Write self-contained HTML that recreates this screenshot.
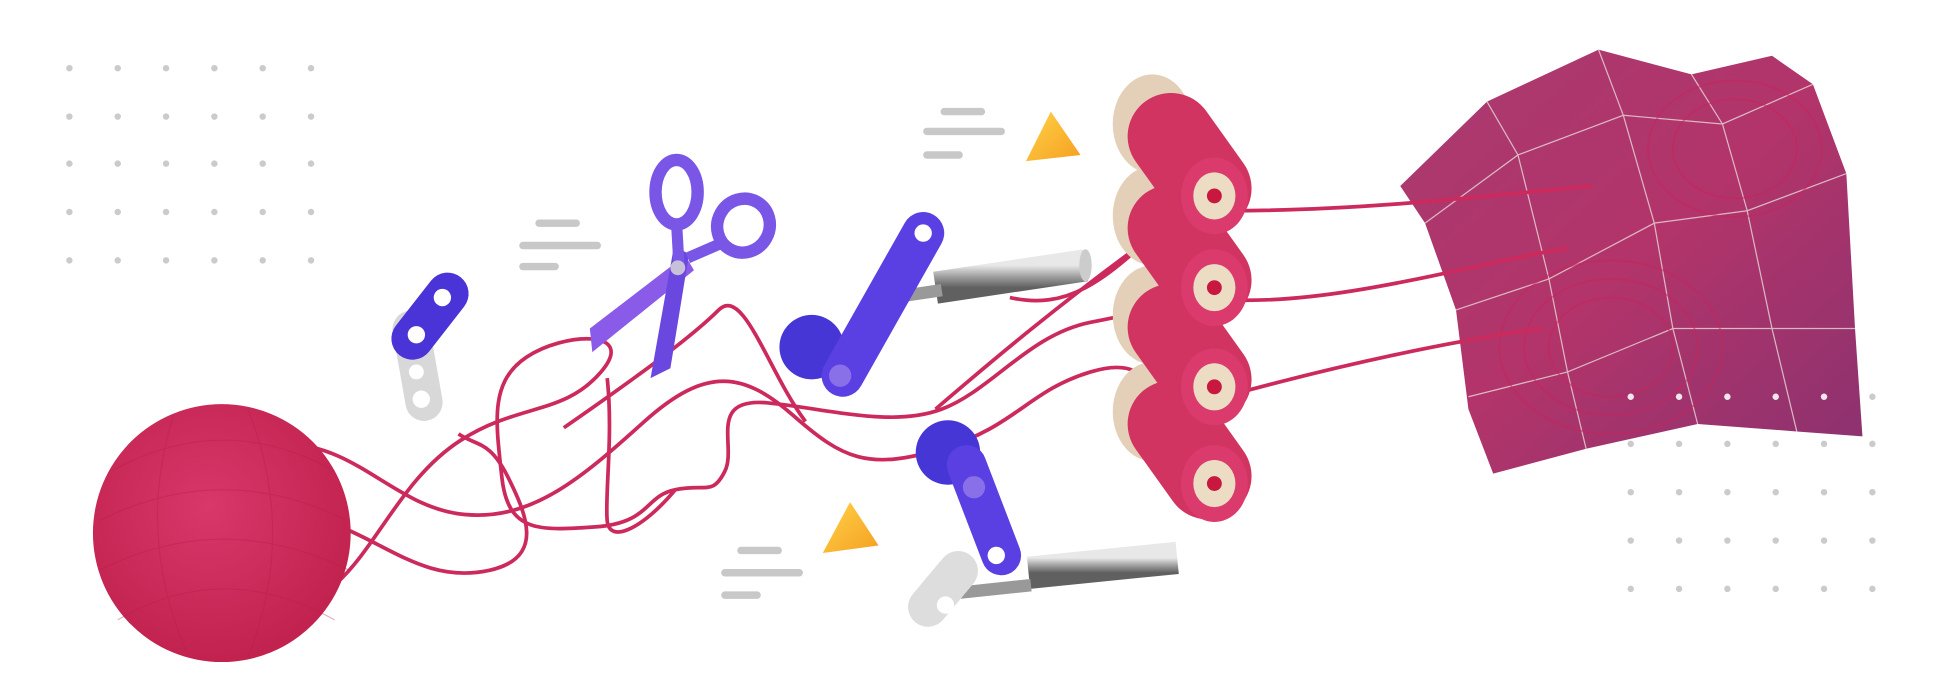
<!DOCTYPE html>
<html><head><meta charset="utf-8"><style>
html,body{margin:0;padding:0;background:#fff;overflow:hidden}
svg{display:block}
</style></head><body>
<svg width="1943" height="698" viewBox="0 0 1568 563" preserveAspectRatio="none" xmlns="http://www.w3.org/2000/svg">
<defs>
<radialGradient id="ball" cx="0.45" cy="0.4" r="0.65"><stop offset="0" stop-color="#d8386a"/><stop offset="1" stop-color="#c0204c"/></radialGradient>
<linearGradient id="fab" x1="0" y1="0" x2="1" y2="1"><stop offset="0" stop-color="#a83a70"/><stop offset="0.5" stop-color="#b2346a"/><stop offset="1" stop-color="#8a3270"/></linearGradient>
<linearGradient id="metal" x1="0" y1="0" x2="0" y2="1"><stop offset="0" stop-color="#e8e8e8"/><stop offset="0.5" stop-color="#a0a0a0"/><stop offset="1" stop-color="#606060"/></linearGradient>
<linearGradient id="tri" x1="0" y1="0" x2="1" y2="1"><stop offset="0" stop-color="#ffd24a"/><stop offset="1" stop-color="#f5a020"/></linearGradient>
</defs>
<g fill="#cbcbcb">
<circle cx="56" cy="55" r="2.6"/><circle cx="95" cy="55" r="2.6"/><circle cx="134" cy="55" r="2.6"/><circle cx="173" cy="55" r="2.6"/><circle cx="212" cy="55" r="2.6"/><circle cx="251" cy="55" r="2.6"/>
<circle cx="56" cy="94" r="2.6"/><circle cx="95" cy="94" r="2.6"/><circle cx="134" cy="94" r="2.6"/><circle cx="173" cy="94" r="2.6"/><circle cx="212" cy="94" r="2.6"/><circle cx="251" cy="94" r="2.6"/>
<circle cx="56" cy="132" r="2.6"/><circle cx="95" cy="132" r="2.6"/><circle cx="134" cy="132" r="2.6"/><circle cx="173" cy="132" r="2.6"/><circle cx="212" cy="132" r="2.6"/><circle cx="251" cy="132" r="2.6"/>
<circle cx="56" cy="171" r="2.6"/><circle cx="95" cy="171" r="2.6"/><circle cx="134" cy="171" r="2.6"/><circle cx="173" cy="171" r="2.6"/><circle cx="212" cy="171" r="2.6"/><circle cx="251" cy="171" r="2.6"/>
<circle cx="56" cy="210" r="2.6"/><circle cx="95" cy="210" r="2.6"/><circle cx="134" cy="210" r="2.6"/><circle cx="173" cy="210" r="2.6"/><circle cx="212" cy="210" r="2.6"/><circle cx="251" cy="210" r="2.6"/>
</g>
<g stroke="#c8c8c8" stroke-width="6" stroke-linecap="round">
<line x1="762" y1="90" x2="792" y2="90"/><line x1="748" y1="106" x2="808" y2="106"/><line x1="748" y1="125" x2="774" y2="125"/>
<line x1="435" y1="180" x2="465" y2="180"/><line x1="422" y1="198" x2="482" y2="198"/><line x1="422" y1="215" x2="448" y2="215"/>
<line x1="598" y1="444" x2="628" y2="444"/><line x1="585" y1="462" x2="645" y2="462"/><line x1="585" y1="480" x2="611" y2="480"/>
</g>
<polygon points="848,90 828,130 872,125" fill="url(#tri)"/>
<polygon points="686,405 664,446 709,440" fill="url(#tri)"/>
<g>
<polygon points="1130,150 1200,82 1290,40 1365,60 1430,45 1463,68 1490,140 1497,265 1503,352 1450,348 1370,342 1280,362 1205,382 1185,330 1175,250 1150,180" fill="url(#fab)"/>
<g stroke="#e8d8d8" stroke-width="1" fill="none" opacity="0.8">
<polyline points="1200,82 1225,125 1250,225 1265,300 1280,362"/>
<polyline points="1290,40 1310,93 1335,180 1350,265 1370,342"/>
<polyline points="1365,60 1390,100 1410,170 1430,265 1450,348"/>
<polyline points="1150,180 1225,125 1310,93 1390,100 1463,68"/>
<polyline points="1175,250 1250,225 1335,180 1410,170 1490,140"/>
<polyline points="1185,320 1265,300 1350,265 1430,265 1497,265"/>
</g>
<g stroke="#c8245a" stroke-width="1.5" fill="none" opacity="0.5">
<ellipse cx="1300" cy="280" rx="90" ry="70"/><ellipse cx="1300" cy="280" rx="70" ry="55"/><ellipse cx="1300" cy="280" rx="50" ry="40"/>
<ellipse cx="1400" cy="120" rx="70" ry="55"/><ellipse cx="1400" cy="120" rx="50" ry="40"/>
</g>
</g>
<g fill="#cbcbcb">
<circle cx="1316" cy="320" r="2.6" fill="#f0e8ee"/><circle cx="1355" cy="320" r="2.6" fill="#f0e8ee"/><circle cx="1394" cy="320" r="2.6" fill="#f0e8ee"/><circle cx="1433" cy="320" r="2.6" fill="#f0e8ee"/><circle cx="1472" cy="320" r="2.6" fill="#f0e8ee"/><circle cx="1511" cy="320" r="2.6"/>
<circle cx="1316" cy="358" r="2.6"/><circle cx="1355" cy="358" r="2.6"/><circle cx="1394" cy="358" r="2.6"/><circle cx="1433" cy="358" r="2.6"/><circle cx="1472" cy="358" r="2.6"/><circle cx="1511" cy="358" r="2.6"/>
<circle cx="1316" cy="397" r="2.6"/><circle cx="1355" cy="397" r="2.6"/><circle cx="1394" cy="397" r="2.6"/><circle cx="1433" cy="397" r="2.6"/><circle cx="1472" cy="397" r="2.6"/><circle cx="1511" cy="397" r="2.6"/>
<circle cx="1316" cy="436" r="2.6"/><circle cx="1355" cy="436" r="2.6"/><circle cx="1394" cy="436" r="2.6"/><circle cx="1433" cy="436" r="2.6"/><circle cx="1472" cy="436" r="2.6"/><circle cx="1511" cy="436" r="2.6"/>
<circle cx="1316" cy="475" r="2.6"/><circle cx="1355" cy="475" r="2.6"/><circle cx="1394" cy="475" r="2.6"/><circle cx="1433" cy="475" r="2.6"/><circle cx="1472" cy="475" r="2.6"/><circle cx="1511" cy="475" r="2.6"/>
</g>
<g stroke="#cc2a5c" stroke-width="3" fill="none">
<path d="M232,358 C290,360 320,410 375,415 S470,385 520,340 S600,300 640,335 S700,380 760,362 S830,315 880,300 S925,320 945,330"/>
<path d="M272,470 C305,440 325,385 372,355 S455,335 485,300 S455,268 425,288 S400,340 405,385 S435,428 480,425 S520,400 545,395 S575,400 585,380 S570,320 620,325 S720,345 760,330 S830,270 880,260 S925,250 945,250"/>
<path d="M282,428 C320,445 350,470 395,460 S425,415 410,385 S385,360 370,350"/>
<path d="M490,305 C495,350 488,400 490,420 S520,425 545,395"/>
<path d="M455,345 C520,300 560,270 580,250 S620,300 650,340"/>
<path d="M755,330 C790,300 860,240 945,180"/>
<path d="M815,240 C860,250 890,230 945,175"/>
<path d="M990,170 C1100,170 1200,158 1285,150"/>
<path d="M995,242 C1080,245 1180,215 1265,200"/>
<path d="M995,318 C1080,295 1170,275 1245,265"/>
</g>
<circle cx="179" cy="430" r="104" fill="url(#ball)"/>
<g stroke="#b81c48" stroke-width="1" fill="none" opacity="0.35">
<path d="M90,380 Q180,330 270,380"/><path d="M80,420 Q180,370 280,420"/><path d="M80,460 Q180,410 282,460"/><path d="M95,500 Q180,450 270,500"/><path d="M140,335 Q110,430 150,525"/><path d="M200,330 Q240,430 200,530"/>
</g>
<g>
<rect x="322" y="250" width="30" height="90" rx="15" fill="#d8d8d8" transform="rotate(-10 337 295)"/>
<circle cx="340" cy="322" r="7" fill="#fff"/><circle cx="336" cy="300" r="6" fill="#fff"/>
<rect x="330" y="215" width="34" height="80" rx="17" fill="#4a34d8" transform="rotate(38 347 255)"/>
<circle cx="357" cy="240" r="7" fill="#fff"/><circle cx="336" cy="270" r="7" fill="#fff"/>
</g>
<g>
<polygon points="476,265 478,284 560,218 553,206" fill="#8a5ae8"/>
<polygon points="525,305 541,297 556,205 544,198" fill="#6a48e0"/>
<ellipse cx="546" cy="155" rx="17" ry="26" fill="none" stroke="#7a56e6" stroke-width="10"/>
<ellipse cx="600" cy="182" rx="21" ry="22" fill="none" stroke="#7a56e6" stroke-width="10" transform="rotate(30 600 182)"/>
<line x1="546" y1="180" x2="548" y2="215" stroke="#7a56e6" stroke-width="9"/>
<line x1="555" y1="208" x2="585" y2="195" stroke="#7a56e6" stroke-width="9"/>
<circle cx="547" cy="216" r="6" fill="#c8c0d8"/>
</g>
<g>
<line x1="755" y1="232" x2="876" y2="214" stroke="url(#metal)" stroke-width="26"/>
<ellipse cx="876" cy="214" rx="5" ry="13" fill="#ccc"/>
<line x1="720" y1="240" x2="760" y2="234" stroke="#999" stroke-width="10"/>
<circle cx="655" cy="280" r="26" fill="#4636d6"/>
<line x1="745" y1="188" x2="680" y2="303" stroke="#5a40e2" stroke-width="34" stroke-linecap="round"/>
<circle cx="745" cy="188" r="7" fill="#fff"/>
<circle cx="678" cy="303" r="9" fill="#8a70e8"/>
</g>
<g>
<line x1="830" y1="462" x2="950" y2="450" stroke="url(#metal)" stroke-width="26"/>
<line x1="775" y1="478" x2="832" y2="472" stroke="#999" stroke-width="10"/>
<rect x="745" y="440" width="32" height="70" rx="16" fill="#ddd" transform="rotate(40 761 475)"/>
<circle cx="763" cy="488" r="7" fill="#fff"/>
<circle cx="765" cy="365" r="26" fill="#4636d6"/>
<line x1="780" y1="375" x2="808" y2="448" stroke="#5a40e2" stroke-width="32" stroke-linecap="round"/>
<circle cx="786" cy="393" r="9" fill="#8a70e8"/>
<circle cx="804" cy="448" r="7" fill="#fff"/>
</g>
<g>
<g transform="translate(0,232)">
<ellipse cx="930" cy="100" rx="32" ry="40" fill="#e4cfb8"/>
<line x1="945" y1="110" x2="975" y2="152" stroke="#d23462" stroke-width="70" stroke-linecap="round"/>
<ellipse cx="980" cy="158" rx="27" ry="31" fill="#da3a6c"/>
<ellipse cx="980" cy="158" rx="17" ry="19" fill="#ecdcc4"/><circle cx="980" cy="158" r="6" fill="#c81840"/>
</g>
<g transform="translate(0,154)">
<ellipse cx="930" cy="100" rx="32" ry="40" fill="#e4cfb8"/>
<line x1="945" y1="110" x2="975" y2="152" stroke="#d23462" stroke-width="70" stroke-linecap="round"/>
<ellipse cx="980" cy="158" rx="27" ry="31" fill="#da3a6c"/>
<ellipse cx="980" cy="158" rx="17" ry="19" fill="#ecdcc4"/><circle cx="980" cy="158" r="6" fill="#c81840"/>
</g>
<g transform="translate(0,74)">
<ellipse cx="930" cy="100" rx="32" ry="40" fill="#e4cfb8"/>
<line x1="945" y1="110" x2="975" y2="152" stroke="#d23462" stroke-width="70" stroke-linecap="round"/>
<ellipse cx="980" cy="158" rx="27" ry="31" fill="#da3a6c"/>
<ellipse cx="980" cy="158" rx="17" ry="19" fill="#ecdcc4"/><circle cx="980" cy="158" r="6" fill="#c81840"/>
</g>
<g>
<ellipse cx="930" cy="100" rx="32" ry="40" fill="#e4cfb8"/>
<line x1="945" y1="110" x2="975" y2="152" stroke="#d23462" stroke-width="70" stroke-linecap="round"/>
<ellipse cx="980" cy="158" rx="27" ry="31" fill="#da3a6c"/>
<ellipse cx="980" cy="158" rx="17" ry="19" fill="#ecdcc4"/><circle cx="980" cy="158" r="6" fill="#c81840"/>
</g>
</g>
</svg>
</body></html>
